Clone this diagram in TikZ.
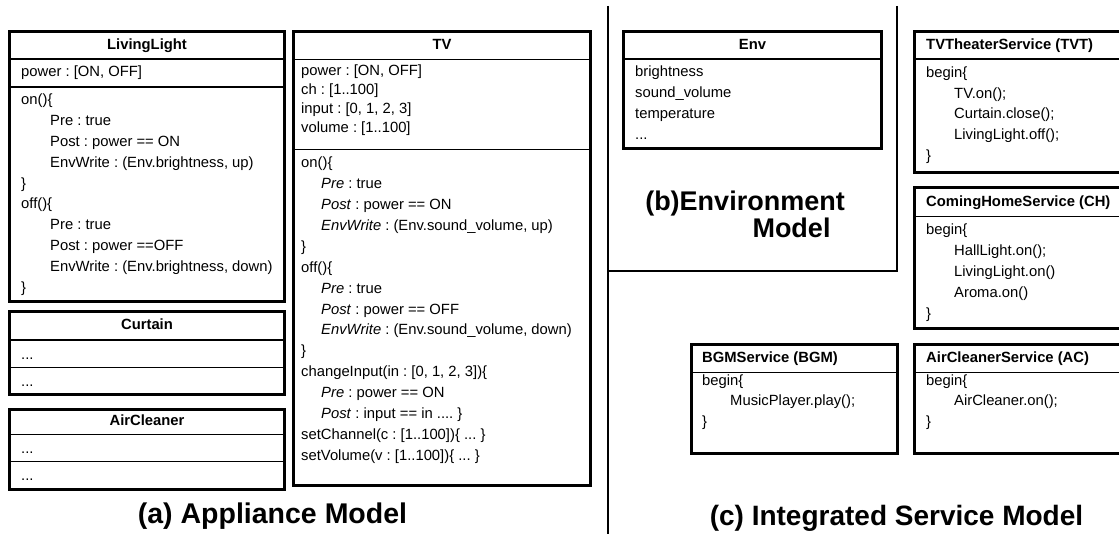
\documentclass[tikz,border=0pt]{standalone}
\usepackage{fontspec}
\setmainfont{Liberation Sans}
\frenchspacing

\begin{document}
\begin{tikzpicture}[x=1pt,y=-1pt]
    \tikzstyle{every node}=[inner sep=0,text height=10.5,text depth=3.5,font=\fontsize{14.8}{17}\selectfont]
    \tikzstyle{txt}=[anchor=west]
    \tikzstyle{headtxt}=[font=\fontsize{14.8}{17}\selectfont\bfseries]
    \tikzstyle{boxline}=[line width=3]
    \tikzstyle{sepline}=[line width=1.4]
    \tikzstyle{divline}=[line width=2.2]
    \tikzstyle{caption}=[font=\fontsize{28.5}{30}\selectfont\bfseries,text height=20,text depth=6]
    \path[use as bounding box] (0,0) rectangle (1119,534);
    \clip (0,0) rectangle (1119,534);
    {
        \draw[divline] (608,6) -- (608,540);
        \draw[divline] (897,6) -- (897,271) -- (608,271);

        \draw[boxline] (9.5,31.3) rectangle (284.5,301.5);
        \draw[sepline] (9.5,59) -- (284.5,59) (9.5,87) -- (284.5,87);
        \node[headtxt] (llhead) at (147,46) {LivingLight};
        \node[txt] (lla1) at (21,73) {power : [ON, OFF]};
        \node[txt] (llm1) at (21,101) {on()\{};
        \node[txt] (llm2) at (50,122) {Pre : true};
        \node[txt] (llm3) at (50,143) {Post : power == ON};
        \node[txt] (llm4) at (50,164) {EnvWrite : (Env.brightness, up)};
        \node[txt] (llm5) at (21,185) {\}};
        \node[txt] (llm6) at (21,205.5) {off()\{};
        \node[txt] (llm7) at (50,226.5) {Pre : true};
        \node[txt] (llm8) at (50,247.5) {Post : power ==OFF};
        \node[txt] (llm9) at (50,268) {EnvWrite : (Env.brightness, down)};
        \node[txt] (llm10) at (21,289) {\}};

        \draw[boxline] (9.5,312) rectangle (284.5,395);
        \draw[sepline] (9.5,340) -- (284.5,340) (9.5,367.3) -- (284.5,367.3);
        \node[headtxt] (cuhead) at (147,326.5) {Curtain};
        \node[txt] (cua1) at (21,356.5) {...};
        \node[txt] (cum1) at (21,383) {...};

        \draw[boxline] (9.5,409) rectangle (284.5,489);
        \draw[sepline] (9.5,434.5) -- (284.5,434.5) (9.5,461.7) -- (284.5,461.7);
        \node[headtxt] (achead) at (147,421.5) {AirCleaner};
        \node[txt] (aca1) at (21,450) {...};
        \node[txt] (acm1) at (21,477) {...};

        \draw[boxline] (293.5,31.3) rectangle (590.5,485.5);
        \draw[sepline] (293.5,59.3) -- (590.5,59.3) (293.5,149.3) -- (590.5,149.3);
        \node[headtxt] (tvhead) at (442,46) {TV};
        \node[txt] (tva1) at (301,72) {power : [ON, OFF]};
        \node[txt] (tva2) at (301,91) {ch : [1..100]};
        \node[txt] (tva3) at (301,110) {input : [0, 1, 2, 3]};
        \node[txt] (tva4) at (301,129) {volume : [1..100]};
        \node[txt] (tvm1) at (301,164.3) {on()\{};
        \node[txt] (tvm2) at (321,185.2) {\textit{Pre} : true};
        \node[txt] (tvm3) at (321,206.1) {\textit{Post} : power == ON};
        \node[txt] (tvm4) at (321,227) {\textit{EnvWrite} : (Env.sound\_volume, up)};
        \node[txt] (tvm5) at (301,247.9) {\}};
        \node[txt] (tvm6) at (301,268.8) {off()\{};
        \node[txt] (tvm7) at (321,289.7) {\textit{Pre} : true};
        \node[txt] (tvm8) at (321,310.6) {\textit{Post} : power == OFF};
        \node[txt] (tvm9) at (321,331.5) {\textit{EnvWrite} : (Env.sound\_volume, down)};
        \node[txt] (tvm10) at (301,352.4) {\}};
        \node[txt] (tvm11) at (301,373.3) {changeInput(in : [0, 1, 2, 3])\{};
        \node[txt] (tvm12) at (321,394.2) {\textit{Pre} : power == ON};
        \node[txt] (tvm13) at (321,415.1) {\textit{Post} : input == in .... \}};
        \node[txt] (tvm14) at (301,436) {setChannel(c : [1..100])\{ ... \}};
        \node[txt] (tvm15) at (301,456.9) {setVolume(v : [1..100])\{ ... \}};

        \draw[boxline] (623.5,31.3) rectangle (881.5,148.5);
        \draw[sepline] (623.5,59) -- (881.5,59);
        \node[headtxt] (envhead) at (752.5,46) {Env};
        \node[txt] (env1) at (635,73) {brightness};
        \node[txt] (env2) at (635,94) {sound\_volume};
        \node[txt] (env3) at (635,115) {temperature};
        \node[txt] (env4) at (635,136) {...};

        \draw[boxline] (914.5,31.3) rectangle (1130,172.7);
        \draw[sepline] (914.5,59) -- (1130,59);
        \node[headtxt,anchor=west] (tvthead) at (926,46) {TVTheaterService (TVT)};
        \node[txt] (tvt1) at (926,74) {begin\{};
        \node[txt] (tvt2) at (954,95) {TV.on();};
        \node[txt] (tvt3) at (954,115.5) {Curtain.close();};
        \node[txt] (tvt4) at (954,136) {LivingLight.off();};
        \node[txt] (tvt5) at (926,157) {\}};

        \draw[boxline] (914.5,187.7) rectangle (1130,329);
        \draw[sepline] (914.5,216.7) -- (1130,216.7);
        \node[headtxt,anchor=west] (chhead) at (926,203.5) {ComingHomeService (CH)};
        \node[txt] (ch1) at (926,231) {begin\{};
        \node[txt] (ch2) at (954,252) {HallLight.on();};
        \node[txt] (ch3) at (954,273) {LivingLight.on()};
        \node[txt] (ch4) at (954,294) {Aroma.on()};
        \node[txt] (ch5) at (926,315) {\}};

        \draw[boxline] (691,345) rectangle (897.7,453.3);
        \draw[sepline] (691,372.3) -- (897.7,372.3);
        \node[headtxt,anchor=west] (bgmhead) at (702,359.5) {BGMService (BGM)};
        \node[txt] (bgm1) at (702,382.5) {begin\{};
        \node[txt] (bgm2) at (730,402.5) {MusicPlayer.play();};
        \node[txt] (bgm3) at (702,422.5) {\}};

        \draw[boxline] (914.5,345) rectangle (1130,453.3);
        \draw[sepline] (914.5,372.3) -- (1130,372.3);
        \node[headtxt,anchor=west] (achead2) at (926,359.5) {AirCleanerService (AC)};
        \node[txt] (acs1) at (926,382.5) {begin\{};
        \node[txt] (acs2) at (954,402.5) {AirCleaner.on();};
        \node[txt] (acs3) at (926,422.5) {\}};

        \node[caption] (capa) at (272.5,516) {(a) Appliance Model};
        \node[caption,font=\fontsize{27}{29}\selectfont\bfseries] (capb1) at (745,204) {(b)Environment};
        \node[caption,font=\fontsize{27}{29}\selectfont\bfseries] (capb2) at (791.5,231) {Model};
        \node[caption,font=\fontsize{28}{30}\selectfont\bfseries] (capc) at (896.5,518) {(c) Integrated Service Model};
    }
\end{tikzpicture}
\end{document}
